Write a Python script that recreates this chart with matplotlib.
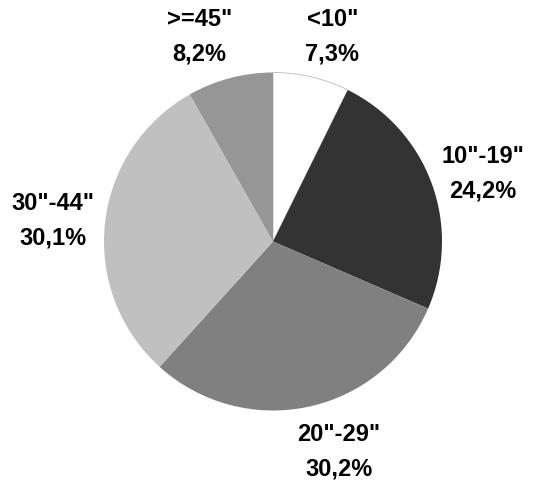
import matplotlib.pyplot as plt

# screen size share
categories = ['<10"', '10"-19"', '20"-29"', '30"-44"', '>=45"']
shares = [7.3, 24.2, 30.2, 30.1, 8.2]
colors = ['#ffffff', '#333333', '#808080', '#c0c0c0', '#969696']
# label centres in pie-radius units
label_pos = [(0.352, 1.216), (1.243, 0.405), (0.391, -1.238), (-1.302, 0.130), (-0.435, 1.216)]

plt.rcParams['font.family'] = ['Liberation Sans', 'DejaVu Sans']

fig = plt.figure(figsize=(5.38, 4.81), dpi=100)
ax = fig.add_axes([(273 - 169) / 538, (481 - 242.5 - 169) / 481, 338 / 538, 338 / 481])

wedges, _ = ax.pie(shares, colors=colors, startangle=90, counterclock=False,
                   wedgeprops=dict(linewidth=0))
wedges[0].set_edgecolor('#bbbbbb')
wedges[0].set_linewidth(0.6)

for c, v, (x, y) in zip(categories, shares, label_pos):
    txt = f'{c}\n{v:.1f}%'.replace('.', ',')
    ax.text(x, y, txt, ha='center', va='center', fontsize=17,
            fontweight='bold', linespacing=1.65)

ax.set_xlim(-1, 1)
ax.set_ylim(-1, 1)
ax.set_aspect('equal')

fig.savefig('out.png', dpi=100)
